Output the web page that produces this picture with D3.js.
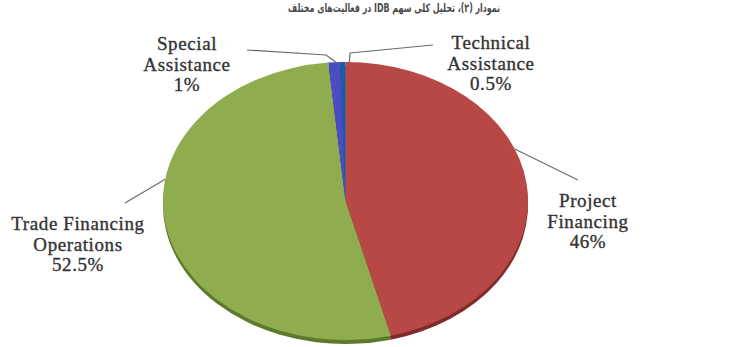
<!DOCTYPE html>
<html>
<head>
<meta charset="utf-8">
<script src="https://cdn.jsdelivr.net/npm/d3@7"></script>
<style>
  html, body { margin: 0; padding: 0; background: #fff; }
  svg { display: block; }
  .lbl { font-family: "Liberation Serif", "Tinos", "DejaVu Serif", "Times New Roman", serif; }
</style>
</head>
<body>
<svg id="chart" width="752" height="347"></svg>
<script>
(function () {
// ---- data ----
const categories = ["Project Financing", "Trade Financing Operations", "Special Assistance", "Technical Assistance"];
const values = [46, 52.5, 1, 0.5];
const percentLabels = ["46%", "52.5%", "1%", "0.5%"];
const labelLines = [["Project", "Financing"], ["Trade Financing", "Operations"], ["Special", "Assistance"], ["Technical", "Assistance"]];
const colors = ["#b84846", "#8fad4f", "#4c4cc2", "#2159a9"];
const sideColors = ["#7e2b29", "#5d7a2c", "#2e2e8a", "#133c78"];
const title = "نمودار (۲)، تحلیل کلی سهم IDB در فعالیت‌های مختلف";

// ---- layout ----
const cx = 345.5, cy = 201, rx = 182.5, ry = 139, depth = 4;
const svg = d3.select("#chart");

// title
svg.append("text")
  .attr("x", 500).attr("y", 12)
  .attr("text-anchor", "start")
  .attr("direction", "rtl")
  .attr("font-family", "'DejaVu Sans', 'Noto Sans', sans-serif")
  .attr("font-size", 11.5)
  .attr("font-weight", "bold")
  .attr("fill", "#4a4a4a")
  .attr("textLength", 212)
  .attr("lengthAdjust", "spacingAndGlyphs")
  .text(title);

const pie = d3.pie().sort(null).value(d => d).startAngle(0).endAngle(2 * Math.PI);
const arcs = pie(values);
const arc = d3.arc().innerRadius(0).outerRadius(ry);

// side (depth) of the tilted pie
const sideG = svg.append("g").attr("transform", `translate(${cx},${cy + depth}) scale(${rx / ry},1)`);
sideG.selectAll("path").data(arcs).join("path")
  .attr("d", arc)
  .attr("fill", (d, i) => sideColors[i]);

// top face
const faceG = svg.append("g").attr("transform", `translate(${cx},${cy}) scale(${rx / ry},1)`);
faceG.selectAll("path").data(arcs).join("path")
  .attr("d", arc)
  .attr("fill", (d, i) => colors[i]);

// ---- labels ----
function edgePoint(angleDeg, extra) {
  const a = angleDeg * Math.PI / 180;
  return [cx + (rx + extra) * Math.sin(a), cy - (ry + extra) * Math.cos(a)];
}
const labelLayout = [
  { x: 588, y: 207, anchor: 68, path: [[578, 180]] },
  { x: 78, y: 230, anchor: 279, path: [[125, 203]] },
  { x: 187, y: 50, anchor: 357, path: [[326, 55], [247, 50]] },
  { x: 491, y: 49, anchor: 1.2, path: [[350, 53], [433, 45]] }
];

const lineGen = d3.line();
labelLayout.forEach((L, i) => {
  const p0 = edgePoint(L.anchor, 0);
  const pts = [p0].concat(L.path);
  svg.append("path")
    .attr("d", lineGen(pts))
    .attr("fill", "none")
    .attr("stroke", "#6b6b6b")
    .attr("stroke-width", 1.2);

  const t = svg.append("text")
    .attr("class", "lbl")
    .attr("text-anchor", "middle")
    .attr("font-size", 19)
    .attr("fill", "#333")
    .attr("stroke", "#333")
    .attr("stroke-width", 0.35)
    .attr("letter-spacing", 0.6);
  const lines = labelLines[i].concat([percentLabels[i]]);
  lines.forEach((s, k) => {
    t.append("tspan").attr("x", L.x).attr("y", L.y + k * 20.5).text(s);
  });
});
})();
</script>
</body>
</html>
